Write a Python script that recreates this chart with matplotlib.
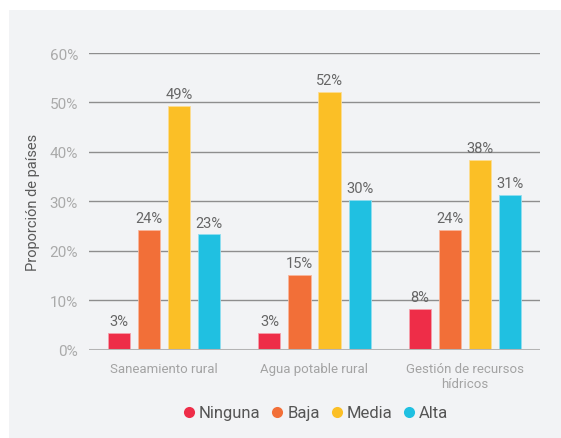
import matplotlib
matplotlib.use("Agg")
import matplotlib.pyplot as plt
from matplotlib.patches import Rectangle
from matplotlib.lines import Line2D
import numpy as np

categories = ["Saneamiento rural", "Agua potable rural", "Gestión de recursos\nhídricos"]
series_names = ["Ninguna", "Baja", "Media", "Alta"]
ninguna = [3.3, 3.3, 8.3]
baja = [24.2, 15.2, 24.2]
media = [49.2, 52.2, 38.3]
alta = [23.3, 30.3, 31.3]
labels_ninguna = ["3%", "3%", "8%"]
labels_baja = ["24%", "15%", "24%"]
labels_media = ["49%", "52%", "38%"]
labels_alta = ["23%", "30%", "31%"]
yticks = [0, 10, 20, 30, 40, 50, 60]
ytick_labels = ["0%", "10%", "20%", "30%", "40%", "50%", "60%"]

colors = ["#EE2D48", "#F26F38", "#FBBF26", "#20C0E1"]
edge_colors = ["#F6A0AC", "#F8B79C", "#FCDD92", "#90DEF0"]

plt.rcParams['font.family'] = ['Roboto', 'DejaVu Sans']
W, H = 561, 439
fig = plt.figure(figsize=(W / 100, H / 100), dpi=100)
fig.patch.set_facecolor("white")
fig.patches.append(Rectangle((9 / W, 0), 1 - 9 / W, 1 - 11 / H, transform=fig.transFigure,
                             facecolor="#F2F3F5", edgecolor="none", zorder=-10))

ax = fig.add_axes([89 / W, (H - 350.7) / H, (540 - 89) / W, (350.7 - 54) / H])
ax.set_facecolor("none")
ax.set_zorder(1)

values = [ninguna, baja, media, alta]
labels = [labels_ninguna, labels_baja, labels_media, labels_alta]
x = np.arange(len(categories))
width = 0.147
for i, (vals, labs) in enumerate(zip(values, labels)):
    pos = x + (i - 1.5) * 0.2
    ax.bar(pos, vals, width=width, color=colors[i], edgecolor=edge_colors[i],
           linewidth=0.6, zorder=3)
    for p, v, l in zip(pos, vals, labs):
        ax.text(p, v + 1.0, l, ha="center", va="bottom", fontsize=10.5,
                color="#666666", zorder=4)

ax.set_xlim(-0.5, 2.5)
ax.set_ylim(0, 60)
ax.set_yticks(yticks)
ax.set_yticklabels(ytick_labels)
for y in yticks[1:]:
    ax.axhline(y, color="#8E8E8E", linewidth=1.0, zorder=1)
ax.axhline(0, color="#B4B4B4", linewidth=2.2, zorder=5)
ax.set_xticks(x)
ax.set_xticklabels(categories, fontsize=9.5, color="#A3A3A3", linespacing=1.15)
ax.tick_params(axis="x", length=0, pad=9)
ax.tick_params(axis="y", length=0, pad=8, labelsize=11, labelcolor="#AAAAAA")
for s in ax.spines.values():
    s.set_visible(False)

fig.text(33 / W, 1 - 202 / H, "Proporción de países", rotation=90, ha="center", va="center",
         fontsize=10.5, color="#5A5A5A")

handles = [Line2D([0], [0], marker="o", linestyle="none", markersize=8,
                  markerfacecolor=c, markeredgecolor="none") for c in colors]
leg = fig.legend(handles, series_names, loc="center",
                 bbox_to_anchor=(314.5 / W, 1 - 414 / H),
                 ncol=4, frameon=False, fontsize=12, handletextpad=0.1, columnspacing=0.5,
                 handlelength=1.0)
for t in leg.get_texts():
    t.set_color("#555555")

fig.savefig("out.png", dpi=100)
